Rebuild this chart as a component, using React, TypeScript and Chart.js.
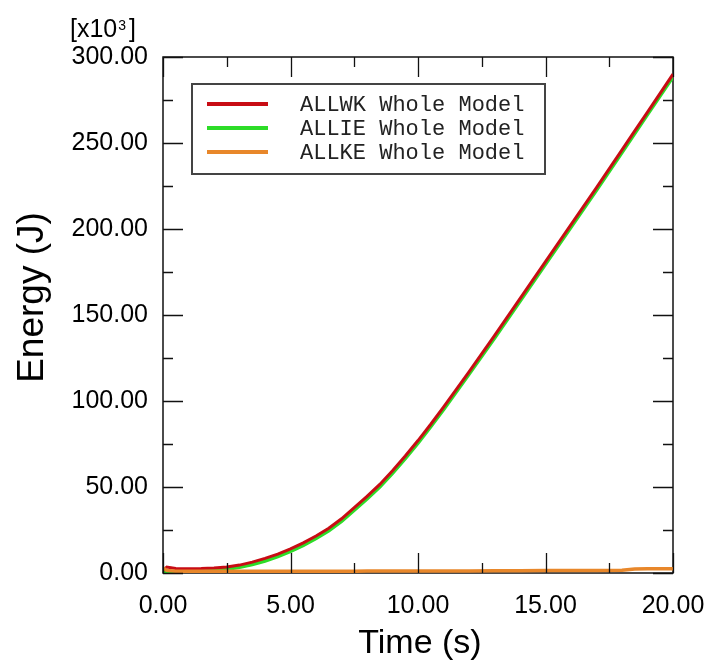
import React, { useEffect, useRef } from 'react';
import { Chart, registerables } from 'chart.js';
Chart.register(...registerables);

// Time (s)
const timeValues = [0, 0.15, 0.5, 1, 1.5, 2, 2.5, 3, 3.5, 4, 4.5, 5, 5.5, 6, 6.5, 7, 7.5, 8, 8.5, 9, 9.5, 10, 10.5, 11, 12, 13, 14, 15, 16, 17, 18, 18.5, 19, 20];
// Energy (J) x10^3
const allwkValues = [1.5, 3.5, 2.6, 2.5, 2.6, 2.9, 3.5, 4.6, 6.3, 8.5, 11.0, 14.0, 17.5, 21.5, 26.0, 31.5, 38.0, 44.5, 51.5, 59.5, 68.0, 77.0, 86.5, 96.5, 117, 138, 159.5, 181, 202.5, 224, 246, 257, 268, 290];
const allieValues = [0.3, 0.8, 0.6, 0.8, 1.0, 1.4, 2.2, 3.3, 4.9, 7.0, 9.5, 12.5, 16.0, 20.0, 24.5, 30.0, 36.5, 43.0, 50.0, 58.0, 66.5, 75.5, 85.0, 95.0, 115.5, 136.5, 158, 179.5, 201, 222.5, 244.5, 255.5, 266.5, 288.5];
const allkeValues = [3.0, 1.5, 1.0, 1.0, 1.0, 1.0, 1.0, 1.0, 1.0, 1.0, 1.0, 1.0, 1.0, 1.0, 1.0, 1.0, 1.0, 1.1, 1.1, 1.1, 1.1, 1.1, 1.1, 1.2, 1.2, 1.3, 1.3, 1.4, 1.5, 1.5, 1.6, 2.3, 2.4, 2.5];

const seriesLabels = ['ALLWK Whole Model', 'ALLIE Whole Model', 'ALLKE Whole Model'];
const seriesColors = ['#c80c14', '#2ddc28', '#e8872a'];

const xMin = 0, xMax = 20, xMajor = 5, xMinor = 2.5;
const yMin = 0, yMax = 300, yMajor = 50, yMinor = 25;
const xTitle = 'Time (s)';
const yTitle = 'Energy (J)';
const yMultiplier = ['[x10', '3', ']'];

const SANS = '"Liberation Sans", Arial, Helvetica, sans-serif';
const MONO = '"Liberation Mono", "Courier New", monospace';

const decorPlugin = {
  id: 'decor',
  beforeDatasetsDraw(chart: any) {
    const { ctx, chartArea: a } = chart;
    ctx.save();
    ctx.strokeStyle = '#111';
    ctx.lineWidth = 1.5;
    ctx.strokeRect(a.left, a.top, a.right - a.left, a.bottom - a.top);
    ctx.restore();
  },
  afterDatasetsDraw(chart: any) {
    const { ctx, chartArea: a } = chart;
    const xs = chart.scales.x;
    const ys = chart.scales.y;
    ctx.save();
    // inward ticks
    ctx.strokeStyle = '#111';
    ctx.lineWidth = 1.3;
    ctx.beginPath();
    for (let v = xMin; v <= xMax + 1e-9; v += xMinor) {
      const p = Math.round(xs.getPixelForValue(v)) + 0.5;
      const len = Math.abs(v / xMajor - Math.round(v / xMajor)) < 1e-6 ? 20 : 10;
      ctx.moveTo(p, a.bottom);
      ctx.lineTo(p, a.bottom - len);
      ctx.moveTo(p, a.top);
      ctx.lineTo(p, a.top + len);
    }
    for (let v = yMin; v <= yMax + 1e-9; v += yMinor) {
      const p = Math.round(ys.getPixelForValue(v)) + 0.5;
      const len = Math.abs(v / yMajor - Math.round(v / yMajor)) < 1e-6 ? 20 : 10;
      ctx.moveTo(a.left, p);
      ctx.lineTo(a.left + len, p);
      ctx.moveTo(a.right, p);
      ctx.lineTo(a.right - len, p);
    }
    ctx.stroke();

    // legend
    const bx = a.left + 29, by = a.top + 27, bw = 353, bh = 90;
    ctx.fillStyle = '#fff';
    ctx.fillRect(bx, by, bw, bh);
    ctx.strokeStyle = '#444';
    ctx.lineWidth = 2;
    ctx.strokeRect(bx, by, bw, bh);
    chart.data.datasets.forEach((ds: any, i: number) => {
      const y = by + 20 + i * 24;
      ctx.strokeStyle = ds.borderColor;
      ctx.lineWidth = 4;
      ctx.beginPath();
      ctx.moveTo(bx + 15, y);
      ctx.lineTo(bx + 76, y);
      ctx.stroke();
      ctx.fillStyle = '#222';
      ctx.font = `22px ${MONO}`;
      ctx.textAlign = 'left';
      ctx.textBaseline = 'middle';
      ctx.fillText(ds.label, bx + 108, y + 1);
    });

    // axis titles
    ctx.fillStyle = '#000';
    ctx.font = `34px ${SANS}`;
    ctx.textAlign = 'center';
    ctx.textBaseline = 'alphabetic';
    ctx.fillText(xTitle, (a.left + a.right) / 2 + 2, 653);

    ctx.save();
    ctx.translate(43, 297.5);
    ctx.rotate(-Math.PI / 2);
    ctx.font = `37px ${SANS}`;
    ctx.textAlign = 'center';
    ctx.textBaseline = 'alphabetic';
    ctx.fillText(yTitle, 0, 0);
    ctx.restore();

    // multiplier
    ctx.textAlign = 'left';
    ctx.textBaseline = 'alphabetic';
    ctx.font = `25px ${SANS}`;
    let x = 70;
    ctx.fillText(yMultiplier[0], x, 37);
    x += ctx.measureText(yMultiplier[0]).width + 1;
    ctx.font = `14px ${SANS}`;
    ctx.fillText(yMultiplier[1], x, 30);
    x += ctx.measureText(yMultiplier[1]).width + 3;
    ctx.font = `25px ${SANS}`;
    ctx.fillText(yMultiplier[2], x, 37);
    ctx.restore();
  },
};

export default function App() {
  const ref = useRef<HTMLCanvasElement | null>(null);
  useEffect(() => {
    if (!ref.current) return;
    const mk = (vals: number[]) => timeValues.map((t, i) => ({ x: t, y: vals[i] }));
    const chart = new Chart(ref.current, {
      type: 'line',
      data: {
        datasets: [
          { label: seriesLabels[0], data: mk(allwkValues), borderColor: seriesColors[0], borderWidth: 3, pointRadius: 0, tension: 0, order: 1 },
          { label: seriesLabels[1], data: mk(allieValues), borderColor: seriesColors[1], borderWidth: 3.5, pointRadius: 0, tension: 0, order: 2 },
          { label: seriesLabels[2], data: mk(allkeValues), borderColor: seriesColors[2], borderWidth: 3.5, pointRadius: 0, tension: 0, order: 0 },
        ],
      },
      options: {
        animation: false,
        responsive: false,
        layout: { padding: { top: 57, right: 36, left: 0, bottom: 0 } },
        plugins: { legend: { display: false }, tooltip: { enabled: false } },
        scales: {
          x: {
            type: 'linear',
            min: xMin,
            max: xMax,
            grid: { display: false, drawTicks: false },
            border: { display: false },
            ticks: {
              stepSize: xMajor,
              padding: 18,
              color: '#000',
              font: { family: SANS, size: 25 },
              maxRotation: 0,
              callback: (v: any) => Number(v).toFixed(2),
            },
            afterFit: (s: any) => { s.height = 94; s.paddingLeft = 0; s.paddingRight = 0; },
          },
          y: {
            type: 'linear',
            min: yMin,
            max: yMax,
            grid: { display: false, drawTicks: false },
            border: { display: false },
            ticks: {
              stepSize: yMajor,
              padding: 15,
              color: '#000',
              font: { family: SANS, size: 25 },
              callback: (v: any) => Number(v).toFixed(2),
            },
            afterFit: (s: any) => { s.width = 163; s.paddingTop = 0; s.paddingBottom = 0; },
          },
        },
      },
      plugins: [decorPlugin],
    } as any);
    return () => chart.destroy();
  }, []);
  return (
    <div style={{ position: 'absolute', left: 0, top: 0, width: 709, height: 667, background: '#fff' }}>
      <canvas ref={ref} width={709} height={667} style={{ display: 'block' }} />
    </div>
  );
}
